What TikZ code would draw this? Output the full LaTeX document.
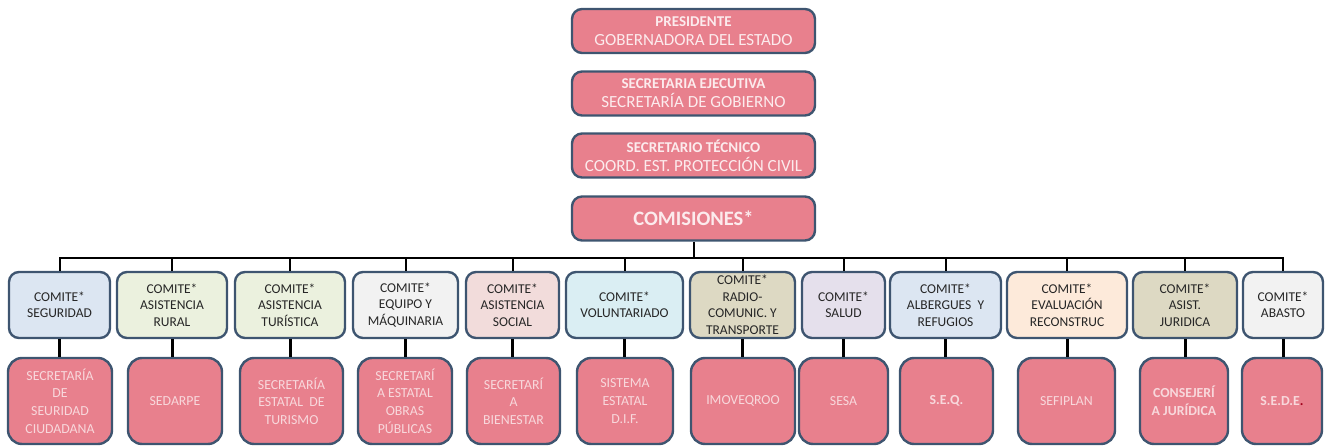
\documentclass[tikz,border=0pt]{standalone}
\usepackage{fontspec}
\setmainfont{Carlito}
\definecolor{rosa}{HTML}{E8808D}
\definecolor{marco}{HTML}{3E5570}
\definecolor{azul}{HTML}{DCE6F2}
\definecolor{verde}{HTML}{EBF1DE}
\definecolor{gris}{HTML}{F2F2F2}
\definecolor{rosado}{HTML}{F2DCDB}
\definecolor{celeste}{HTML}{DAEEF3}
\definecolor{arena}{HTML}{DDD9C3}
\definecolor{lila}{HTML}{E5E0EC}
\definecolor{durazno}{HTML}{FDEADA}
\definecolor{tinta}{HTML}{262626}
\definecolor{claro}{HTML}{FCEBED}
\definecolor{palido}{HTML}{F8D8DC}
\definecolor{rojo}{HTML}{A0001A}
\begin{document}
\begin{tikzpicture}
[
    x=1pt, y=-1pt,
    caja/.style={draw=marco, line width=2.4pt, rounded corners=10pt, align=center, inner sep=0pt},
    cargo/.style={caja, fill=rosa, text=claro, minimum width=243pt, minimum height=44pt,
        font=\fontsize{17}{19}\selectfont},
    comite/.style={caja, fill=#1, text=tinta, minimum height=66pt,
        font=\fontsize{13.5}{16.5}\selectfont},
    dep/.style={caja, fill=rosa, text=palido, rounded corners=14pt, minimum height=86pt,
        font=\fontsize{13.8}{17.7}\selectfont},
    liga/.style={line width=2pt},
    baja/.style={line width=3pt},
]
\useasboundingbox (0,0) rectangle (1325,446);
\clip (0,0) rectangle (1325,446);

% mando
\node[cargo] (pres) at (693.5,31) {{\fontsize{15}{19}\selectfont\bfseries PRESIDENTE}\\GOBERNADORA DEL ESTADO};
\node[cargo] (ejec) at (693.5,93.5) {{\fontsize{15}{19}\selectfont\bfseries SECRETARIA EJECUTIVA}\\SECRETARÍA DE GOBIERNO};
\node[cargo] (tec) at (693.5,155.5) {{\fontsize{15}{19}\selectfont\bfseries SECRETARIO TÉCNICO}\\COORD. EST. PROTECCIÓN CIVIL};
\node[cargo, font=\fontsize{20.5}{22}\selectfont\bfseries] (com) at (693.5,218.5) {COMISIONES*};

% comites
\node[comite=azul, minimum width=101pt] (c1) at (59.5,305) {COMITE*\\SEGURIDAD};
\node[comite=verde, minimum width=110pt] (c2) at (172,305) {COMITE*\\ASISTENCIA\\RURAL};
\node[comite=verde, minimum width=110pt] (c3) at (290,305) {COMITE*\\ASISTENCIA\\TURÍSTICA};
\node[comite=gris, minimum width=105pt] (c4) at (405.5,305) {COMITE*\\EQUIPO Y\\MÁQUINARIA};
\node[comite=rosado, minimum width=93pt] (c5) at (512.5,305) {COMITE*\\ASISTENCIA\\SOCIAL};
\node[comite=celeste, minimum width=117pt] (c6) at (624.5,305) {COMITE*\\VOLUNTARIADO};
\node[comite=arena, minimum width=105pt] (c7) at (742.5,305) {COMITE*\\RADIO-\\COMUNIC. Y\\TRANSPORTE};
\node[comite=lila, minimum width=83pt] (c8) at (843.5,305) {COMITE*\\SALUD};
\node[comite=azul, minimum width=111pt] (c9) at (945.5,305) {COMITE*\\ALBERGUES~~Y\\REFUGIOS};
\node[comite=durazno, minimum width=120pt] (c10) at (1067,305) {COMITE*\\EVALUACIÓN\\RECONSTRUC};
\node[comite=arena, minimum width=104pt] (c11) at (1185,305) {COMITE*\\ASIST.\\JURIDICA};
\node[comite=gris, minimum width=80pt] (c12) at (1283,305) {COMITE*\\ABASTO};

% dependencias
\node[dep, minimum width=104pt] (s1) at (60,401) {SECRETARÍA\\DE\\SEURIDAD\\CIUDADANA};
\node[dep, minimum width=94pt] (s2) at (175,401) {SEDARPE};
\node[dep, minimum width=103pt] (s3) at (291.5,401) {SECRETARÍA\\ESTATAL~~DE\\TURISMO};
\node[dep, minimum width=94pt] (s4) at (405,401) {SECRETARÍ\\A ESTATAL\\OBRAS\\PÚBLICAS};
\node[dep, minimum width=93pt] (s5) at (513.5,401) {SECRETARÍ\\A\\BIENESTAR};
\node[dep, minimum width=96pt] (s6) at (625,401) {SISTEMA\\ESTATAL\\D.I.F.};
\node[dep, minimum width=104pt] (s7) at (743,401) {IMOVEQROO};
\node[dep, minimum width=89pt] (s8) at (843.5,401) {SESA};
\node[dep, minimum width=93pt] (s9) at (946.5,401) {\bfseries S.E.Q.};
\node[dep, minimum width=97pt] (s10) at (1066.5,401) {SEFIPLAN};
\node[dep, minimum width=88pt] (s11) at (1184,401) {\bfseries CONSEJERÍ\\\bfseries A JURÍDICA};
\node[dep, minimum width=80pt] (s12) at (1282,401) {\bfseries S.E.D.E\textcolor{rojo}{.}};

% lineas
\draw[liga] (com.south) -- ++(0,16) coordinate (bus);
\draw[liga] (c1.north) |- (bus) -| (c12.north);
\foreach \i in {2,...,11}
    \draw[liga] (c\i.north |- bus) -- (c\i.north);
\foreach \i in {1,...,12}
    \draw[baja] (c\i.south) -- (c\i.south |- s\i.north);
\end{tikzpicture}
\end{document}
